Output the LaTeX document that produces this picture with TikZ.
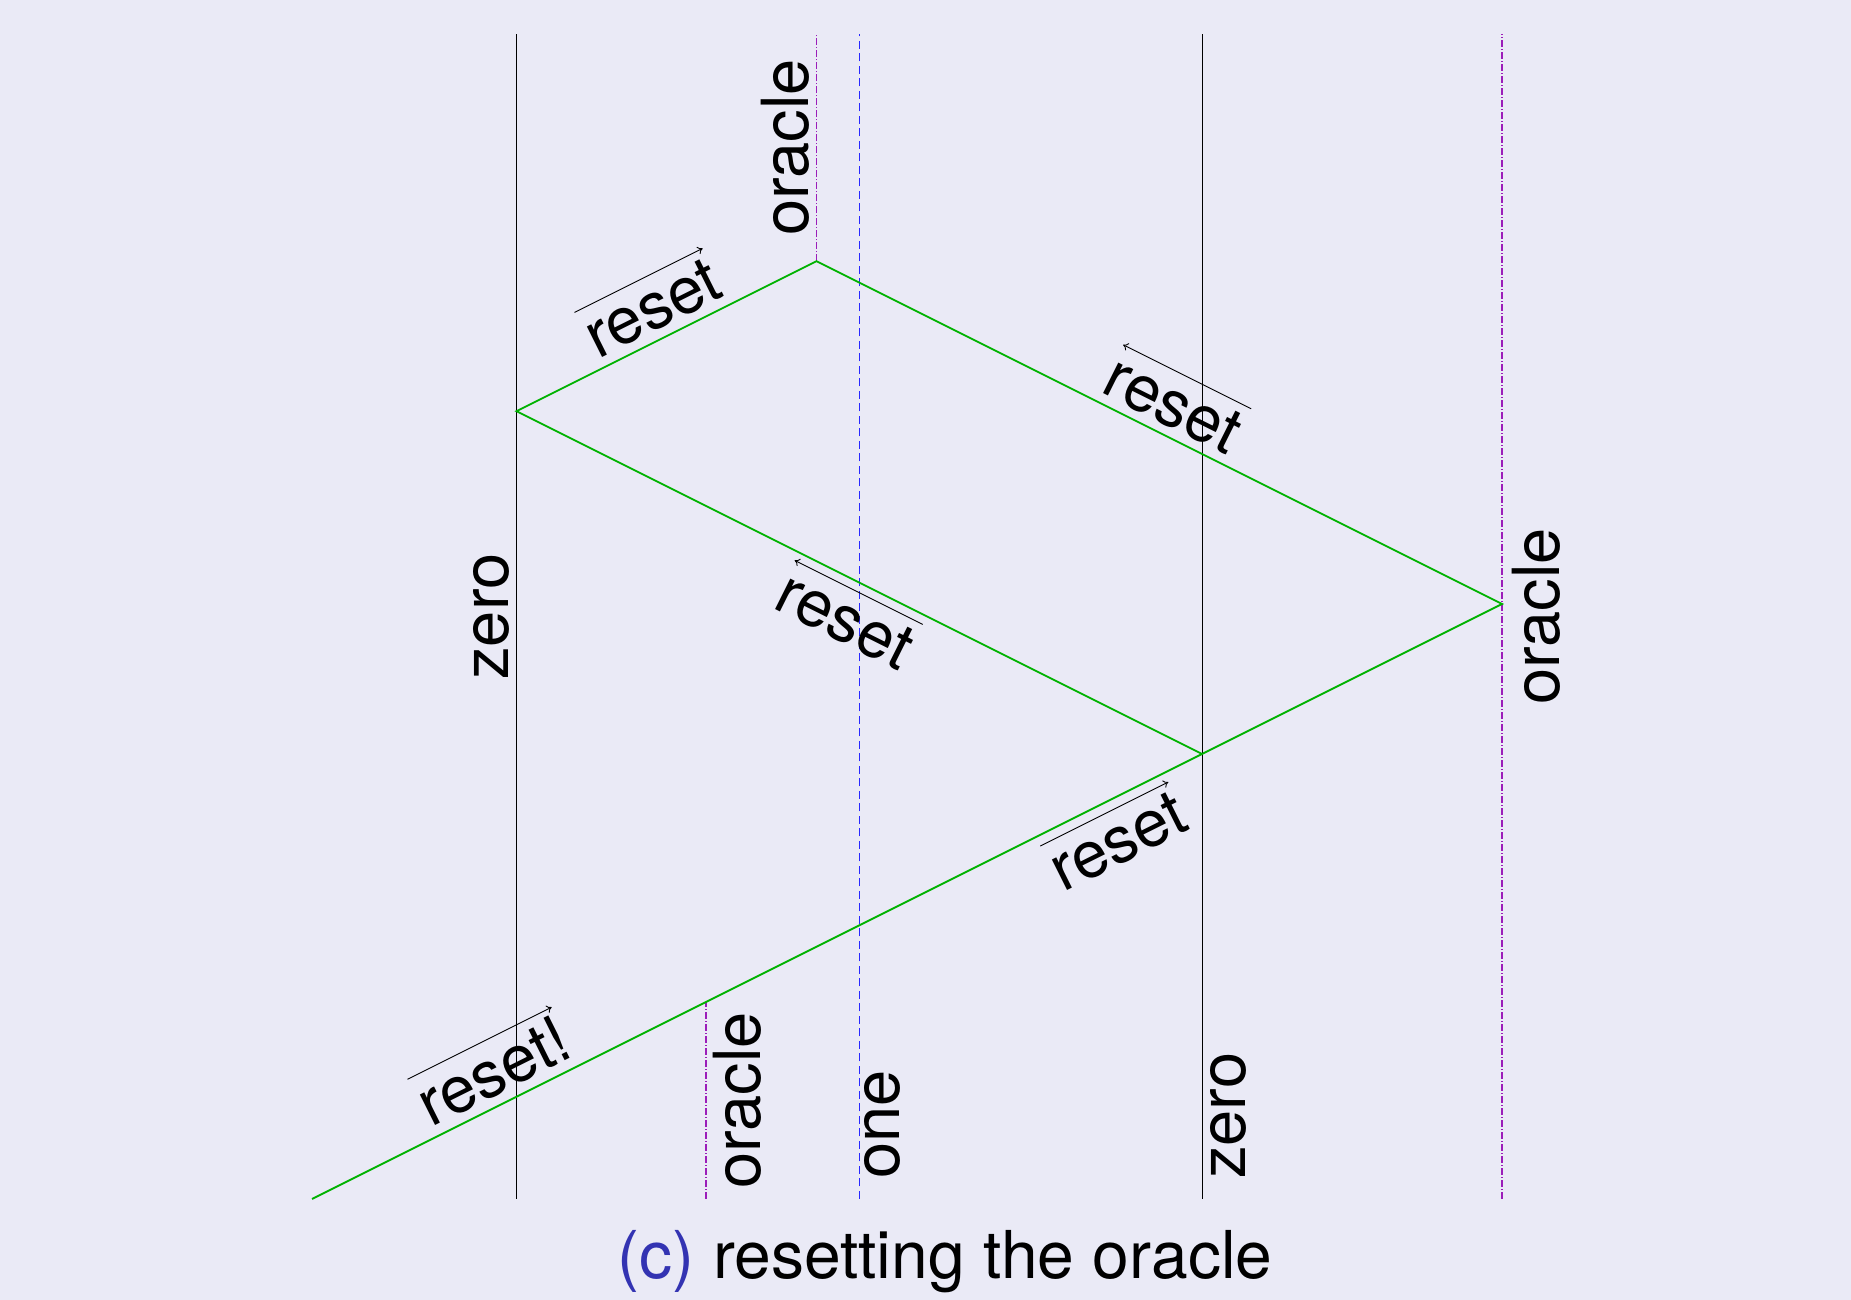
\documentclass[tikz,border=0pt]{standalone}
\usepackage{fontspec}
\setmainfont{TeX Gyre Heros}
\usetikzlibrary{calc,arrows.meta}
\definecolor{bgcol}{RGB}{234,234,246}
\definecolor{msggreen}{RGB}{0,178,0}
\definecolor{onecol}{RGB}{40,40,255}
\definecolor{oraclecol}{RGB}{155,30,185}
\definecolor{capblue}{rgb}{0.2,0.2,0.7}
\begin{document}
\begin{tikzpicture}[x=1bp,y=1bp,
  lifeline/.style={line width=1bp, black},
  oracleline/.style={line width=1.1bp, oraclecol, dash pattern=on 7bp off 2bp on 1bp off 2bp},
  oneline/.style={line width=1.3bp, onecol, dash pattern=on 8bp off 4.5bp},
  msg/.style={line width=1.8bp, msggreen},
  lbl/.style={font=\fontsize{65bp}{78bp}\selectfont, inner sep=0pt, outer sep=0pt, text=black},
  msglbl/.style={lbl, sloped},
  tip/.style={line width=0.9bp, black, -{Computer Modern Rightarrow[length=5bp,width=8bp]}}
]
\fill[bgcol] (0,0) rectangle (1851,1300);
\useasboundingbox (0,0) rectangle (1851,1300);

% lifeline end points
\coordinate (zLt) at (516.5,1266); \coordinate (zLb) at (516.5,101);
\coordinate (oUt) at (816.5,1266);
\coordinate (onet) at (859.5,1266); \coordinate (oneb) at (859.5,101);
\coordinate (zRt) at (1202,1266); \coordinate (zRb) at (1202,101);
\coordinate (oRt) at (1502,1266); \coordinate (oRb) at (1502,101);
% message corners
\coordinate (S0) at (312,101);
\coordinate (P1) at (1502,696);
\coordinate (P2) at (816.5,1038.75);
\coordinate (P3) at (516.5,888.75);
\coordinate (X) at (1202,546);
\coordinate (oLt) at (706,298); \coordinate (oLb) at (706,101);

% lifelines
\draw[lifeline] (zLb) -- node[lbl, sloped, above=7bp, midway] (tzL) {zero} (zLt);
\draw[oracleline] (P2) -- node[lbl, sloped, above=7bp, midway] (toU) {oracle} (oUt);
\draw[oneline] (oneb) -- (onet);
\node[lbl, rotate=90, anchor=north west] (tone) at (864.5,121) {one};
\draw[lifeline] (zRb) -- (zRt);
\node[lbl, rotate=90, anchor=north west] (tzR) at (1210,121) {zero};
\draw[oracleline] (oRb) -- node[lbl, sloped, below=10bp, midway] (toR) {oracle} (oRt);
\draw[oracleline] (oLb) -- node[lbl, sloped, below=7bp, midway] (toL) {oracle} (oLt);

% messages
\draw[msg] (S0) -- (P1) -- (P2) -- (P3) -- (X);
\path (S0) -- (P1)
  node[msglbl, pos=0.165, above=9bp] (m1) {reset!}
  node[msglbl, pos=0.662, below=19bp] (m2) {reset};
\path (P2) -- (P1) node[msglbl, midway, above=9bp] (m3) {reset};
\path (P3) -- (P2) node[msglbl, midway, above=9bp] (m4) {reset};
\path (P3) -- (X) node[msglbl, pos=0.505, below=18bp] (m5) {reset};

\draw[tip] ($(m1.north west)!-7bp!(m1.south west)$) -- ($(m1.north east)!-7bp!(m1.south east)$);
\draw[tip] ($(m2.north west)!-9bp!(m2.south west)$) -- ($(m2.north east)!-9bp!(m2.south east)$);
\draw[tip] ($(m3.north east)!-9bp!(m3.south east)$) -- ($(m3.north west)!-9bp!(m3.south west)$);
\draw[tip] ($(m4.north west)!-9bp!(m4.south west)$) -- ($(m4.north east)!-9bp!(m4.south east)$);
\draw[tip] ($(m5.north east)!-9bp!(m5.south east)$) -- ($(m5.north west)!-9bp!(m5.south west)$);

% caption
\node[lbl, font=\fontsize{66bp}{79bp}\selectfont, anchor=base] (cap) at (945,21) {\textcolor{capblue}{(c)} resetting the oracle};
\end{tikzpicture}
\end{document}
